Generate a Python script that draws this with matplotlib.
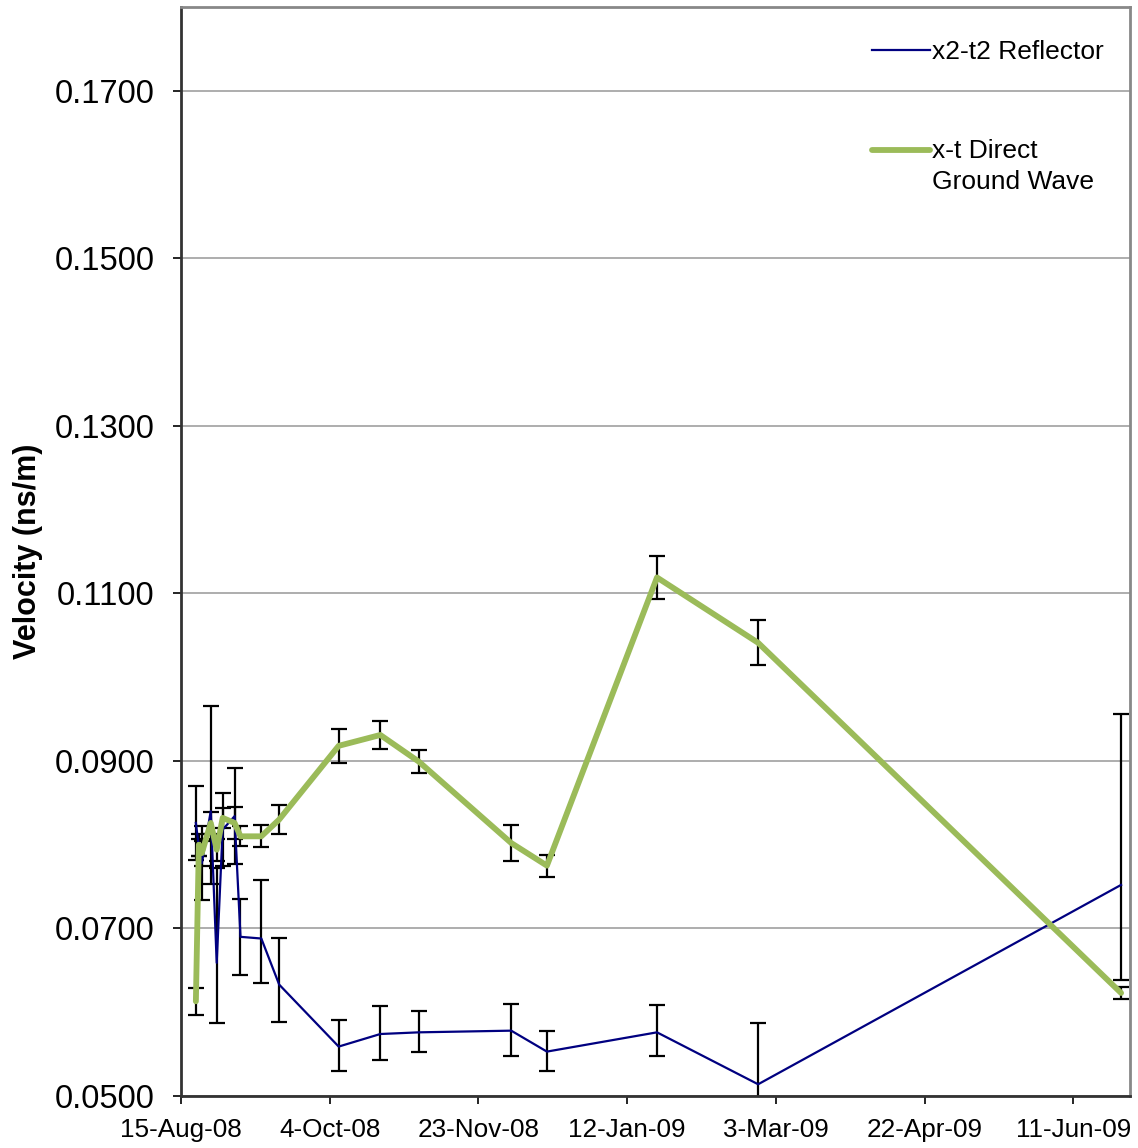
import datetime as dt
import matplotlib
matplotlib.use("Agg")
import matplotlib.pyplot as plt
import matplotlib.dates as mdates
from matplotlib.ticker import FuncFormatter, FixedLocator
import numpy as np

plt.rcParams['font.family'] = ['Liberation Sans', 'DejaVu Sans']

# survey dates
dates = ["2008-08-20", "2008-08-21", "2008-08-22", "2008-08-25", "2008-08-27",
         "2008-08-29", "2008-09-02", "2008-09-04", "2008-09-11", "2008-09-17",
         "2008-10-07", "2008-10-21", "2008-11-03", "2008-12-04", "2008-12-16",
         "2009-01-22", "2009-02-25", "2009-06-27"]

# x2-t2 reflector velocities and (lower, upper) errors
refl = [0.0826, 0.0797, 0.0778, 0.0840, 0.0659, 0.0818, 0.0834, 0.0690, 0.0688, 0.0633,
        0.0559, 0.0574, 0.0576, 0.0578, 0.0553, 0.0576, 0.0514, 0.0752]
refl_lo = [0.0044, 0.0010, 0.0044, 0.0087, 0.0072, 0.0044, 0.0057, 0.0045, 0.0053, 0.0045,
           0.0029, 0.0031, 0.0024, 0.0030, 0.0023, 0.0028, 0.0073, 0.0113]
refl_hi = [0.0044, 0.0010, 0.0044, 0.0125, 0.0113, 0.0044, 0.0057, 0.0045, 0.0070, 0.0056,
           0.0032, 0.0034, 0.0025, 0.0032, 0.0024, 0.0033, 0.0073, 0.0204]

# x-t direct ground wave velocities and errors
direct = [0.0613, 0.0800, 0.0790, 0.0826, 0.0794, 0.0832, 0.0826, 0.0810, 0.0810, 0.0830,
          0.0918, 0.0931, 0.0899, 0.0802, 0.0775, 0.1119, 0.1041, 0.0623]
direct_err = [0.0016, 0.0013, 0.0015, 0.0013, 0.0013, 0.0012, 0.0019, 0.0012, 0.0013, 0.0017,
              0.0020, 0.0017, 0.0014, 0.0021, 0.0013, 0.0026, 0.0027, 0.0007]

yticks = [0.05, 0.07, 0.09, 0.11, 0.13, 0.15, 0.17]

t = [dt.datetime.strptime(d, "%Y-%m-%d") for d in dates]
start = dt.datetime(2008, 8, 15)
xticks = [start + dt.timedelta(days=50 * k) for k in range(7)]

fig = plt.figure(figsize=(11.38, 11.48), dpi=100)
ax = fig.add_axes([181 / 1138, 52 / 1148, 949 / 1138, 1089 / 1148])

ax.errorbar(t, refl, yerr=[refl_lo, refl_hi], fmt='none', ecolor='black',
            elinewidth=1.6, capsize=5.5, capthick=1.6, zorder=2)
ax.errorbar(t, direct, yerr=direct_err, fmt='none', ecolor='black',
            elinewidth=1.6, capsize=5.5, capthick=1.6, zorder=2)
ax.plot(t, refl, color='#000080', lw=1.6, label='x2-t2 Reflector', zorder=3)
ax.plot(t, direct, color='#9BBB59', lw=4.2, label='x-t Direct\nGround Wave',
        solid_capstyle='round', solid_joinstyle='round', zorder=4)

ax.set_xlim(start, dt.datetime(2009, 6, 30))
ax.set_ylim(0.05, 0.18)
ax.yaxis.set_major_locator(FixedLocator(yticks))
ax.yaxis.set_major_formatter(FuncFormatter(lambda v, p: f"{v:.4f}"))
ax.xaxis.set_major_locator(FixedLocator(mdates.date2num(xticks)))
ax.xaxis.set_major_formatter(FuncFormatter(
    lambda v, p: mdates.num2date(v).strftime("%d-%b-%y").lstrip("0")))

ax.grid(axis='y', color='#a0a0a0', lw=1.2)
ax.set_axisbelow(True)
for s in ['top', 'right']:
    ax.spines[s].set_color('#888888')
    ax.spines[s].set_linewidth(2)
for s in ['left', 'bottom']:
    ax.spines[s].set_color('#333333')
    ax.spines[s].set_linewidth(2)

ax.tick_params(axis='y', labelsize=23.5, length=6, width=1.2, pad=13)
ax.tick_params(axis='x', labelsize=18.8, length=6, width=1.2, pad=10)
ax.set_ylabel('Velocity (ns/m)', fontsize=22, fontweight='bold', labelpad=8)

leg = ax.legend(loc='upper right', frameon=False, fontsize=19,
                handlelength=2.2, handletextpad=0.1, labelspacing=2.83,
                borderaxespad=0.2, bbox_to_anchor=(0.9895, 0.984))
leg.get_texts()[1].set_linespacing(1.35)
# keep the second legend line level with the first row of its label
h2 = leg.get_lines()[1]
h2.set_ydata(np.asarray(h2.get_ydata()) + 12)

fig.savefig("out.png", dpi=100)
